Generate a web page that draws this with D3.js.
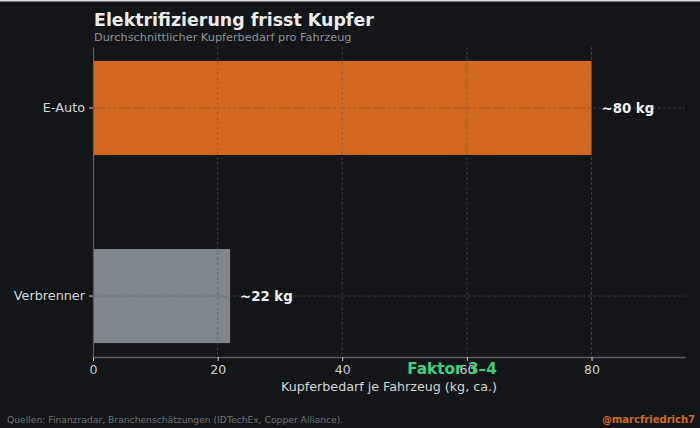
<!DOCTYPE html>
<html>
<head>
<meta charset="utf-8">
<script src="https://cdn.jsdelivr.net/npm/d3@7"></script>
<style>
  html, body { margin: 0; padding: 0; background: #121619; }
  svg { display: block; font-family: "DejaVu Sans", sans-serif; }
</style>
</head>
<body>
<div id="chart"></div>
<script>
// Data
const categories = ["E-Auto", "Verbrenner"];
const values = [80, 22];
const valueLabels = ["~80 kg", "~22 kg"];
const xTicks = [0, 20, 40, 60, 80];

const width = 700, height = 428;
const margin = { top: 47, right: 15, bottom: 71, left: 93 };

const svg = d3.select("#chart")
    .append("svg")
    .attr("width", width)
    .attr("height", height);

// background
svg.append("rect")
    .attr("width", width)
    .attr("height", height)
    .attr("fill", "#121619");
svg.append("rect")
    .attr("width", width)
    .attr("height", 1.5)
    .attr("fill", "#d8d8d8");

// Scales
const x = d3.scaleLinear()
    .domain([0, 95])
    .range([margin.left, width - margin.right]);

const y = d3.scaleBand()
    .domain(categories)
    .range([margin.top, height - margin.bottom])
    .paddingInner(0.5)
    .paddingOuter(0.074);

const colors = { "E-Auto": "#d2691e", "Verbrenner": "#7f868c" };

// Bars
svg.selectAll("rect.bar")
    .data(categories)
    .enter()
    .append("rect")
    .attr("class", "bar")
    .attr("x", x(0))
    .attr("y", d => y(d))
    .attr("width", (d, i) => x(values[i]) - x(0))
    .attr("height", y.bandwidth())
    .attr("fill", d => colors[d]);

// Grid (drawn over the bars, like in the original)
svg.append("g")
    .selectAll("line")
    .data(xTicks.slice(1))
    .enter()
    .append("line")
    .attr("x1", d => x(d))
    .attr("x2", d => x(d))
    .attr("y1", margin.top)
    .attr("y2", height - margin.bottom)
    .attr("stroke", "#555a5e")
    .attr("stroke-opacity", 0.7)
    .attr("stroke-width", 0.8)
    .attr("stroke-dasharray", "3,2");

svg.append("g")
    .selectAll("line")
    .data(categories)
    .enter()
    .append("line")
    .attr("x1", x(0))
    .attr("x2", width - margin.right)
    .attr("y1", d => y(d) + y.bandwidth() / 2)
    .attr("y2", d => y(d) + y.bandwidth() / 2)
    .attr("stroke", "#555a5e")
    .attr("stroke-opacity", 0.7)
    .attr("stroke-width", 0.8)
    .attr("stroke-dasharray", "3,2");

// X-axis
const xAxis = svg.append("g")
    .attr("transform", `translate(0, ${height - margin.bottom})`)
    .call(d3.axisBottom(x).tickValues(xTicks).tickSize(4).tickPadding(4).tickSizeOuter(0));
xAxis.select(".domain").attr("stroke", "#5a5f63").attr("stroke-width", 1.5);
xAxis.selectAll(".tick line").attr("stroke", "#cccccc");
xAxis.selectAll(".tick text")
    .attr("fill", "#cfcfcf")
    .style("font-size", "12.5px")
    .style("font-family", "DejaVu Sans");

// Y-axis
const yAxis = svg.append("g")
    .attr("transform", `translate(${margin.left}, 0)`)
    .call(d3.axisLeft(y).tickSize(4).tickPadding(4).tickSizeOuter(0));
yAxis.select(".domain").attr("stroke", "#5a5f63").attr("stroke-width", 1.2);
yAxis.selectAll(".tick line").attr("stroke", "#cccccc");
yAxis.selectAll(".tick text")
    .attr("fill", "#d6d6d6")
    .style("font-size", "12.8px")
    .style("font-family", "DejaVu Sans");

// Value labels
svg.selectAll("text.val")
    .data(categories)
    .enter()
    .append("text")
    .attr("class", "val")
    .attr("x", (d, i) => x(values[i]) + 10)
    .attr("y", d => y(d) + y.bandwidth() / 2)
    .attr("dy", "0.35em")
    .attr("fill", "#f0f0f0")
    .style("font-weight", "bold")
    .style("font-size", "13.3px")
    .text((d, i) => valueLabels[i]);

// Titles
svg.append("text")
    .attr("x", 94)
    .attr("y", 26)
    .attr("fill", "#ececec")
    .style("font-weight", "bold")
    .style("font-size", "17.4px")
    .text("Elektrifizierung frisst Kupfer");

svg.append("text")
    .attr("x", 94)
    .attr("y", 40.5)
    .attr("fill", "#8e9295")
    .style("font-size", "11.3px")
    .text("Durchschnittlicher Kupferbedarf pro Fahrzeug");

// X label
svg.append("text")
    .attr("x", (margin.left + width - margin.right) / 2)
    .attr("y", 391)
    .attr("text-anchor", "middle")
    .attr("fill", "#d6d6d6")
    .style("font-size", "12.7px")
    .text("Kupferbedarf je Fahrzeug (kg, ca.)");

// Faktor annotation
svg.append("text")
    .attr("x", 452)
    .attr("y", 374)
    .attr("text-anchor", "middle")
    .attr("fill", "#3ecf7c")
    .style("font-weight", "bold")
    .style("font-size", "15.3px")
    .text("Faktor 3–4");

// Footer
svg.append("text")
    .attr("x", 7)
    .attr("y", 423)
    .attr("fill", "#6f7377")
    .style("font-size", "9.2px")
    .text("Quellen: Finanzradar, Branchenschätzungen (IDTechEx, Copper Alliance).");

svg.append("text")
    .attr("x", 695)
    .attr("y", 423)
    .attr("text-anchor", "end")
    .attr("fill", "#d2691e")
    .style("font-weight", "bold")
    .style("font-size", "10px")
    .text("@marcfriedrich7");
</script>
</body>
</html>
